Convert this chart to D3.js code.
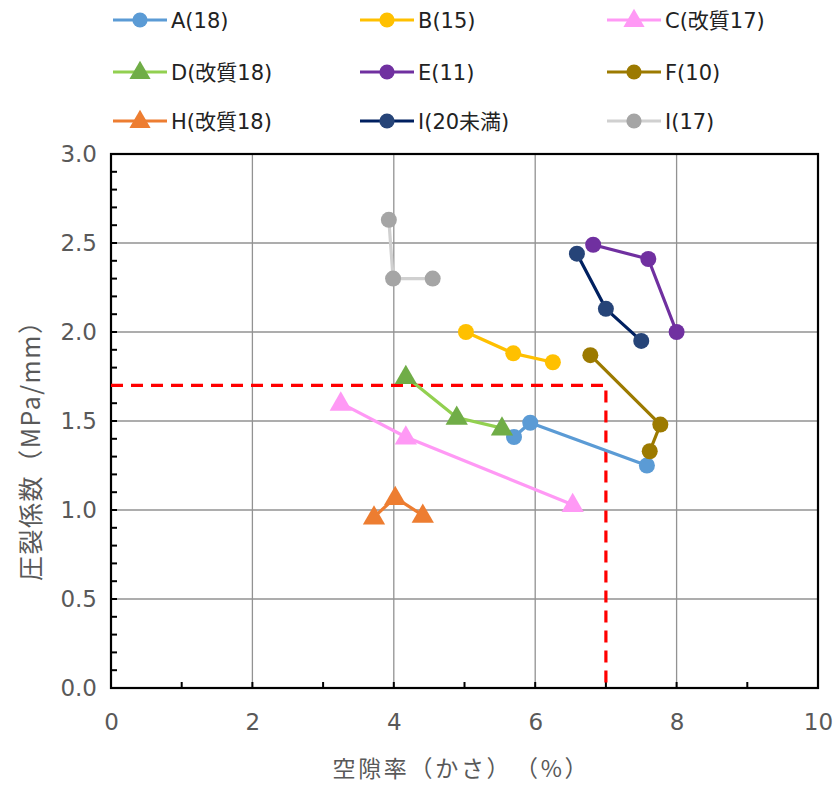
<!DOCTYPE html>
<html>
<head>
<meta charset="utf-8">
<script src="https://cdn.jsdelivr.net/npm/d3@7"></script>
<style>
  html, body { margin: 0; padding: 0; background: #fff; }
  svg { display: block; font-family: "DejaVu Sans", "Noto Sans CJK JP", sans-serif; }
</style>
</head>
<body>
<svg id="chart" width="840" height="789"></svg>
<script>
// Series: name, x values (空隙率 %), y values (圧裂係数 MPa/mm)
const seriesNames = ["A(18)", "B(15)", "C(改質17)", "D(改質18)", "E(11)", "F(10)", "H(改質18)", "I(20未満)", "I(17)"];
const seriesX = [
  [5.70, 5.93, 7.58],
  [5.02, 5.69, 6.25],
  [3.25, 4.17, 6.53],
  [4.17, 4.89, 5.53],
  [6.82, 7.60, 8.00],
  [6.78, 7.77, 7.62],
  [3.72, 4.02, 4.41],
  [6.59, 7.00, 7.50],
  [3.93, 3.99, 4.55]
];
const seriesY = [
  [1.41, 1.49, 1.25],
  [2.00, 1.88, 1.83],
  [1.60, 1.41, 1.03],
  [1.75, 1.52, 1.46],
  [2.49, 2.41, 2.00],
  [1.87, 1.48, 1.33],
  [0.96, 1.07, 0.97],
  [2.44, 2.13, 1.95],
  [2.63, 2.30, 2.30]
];
const seriesShape = ["circle", "circle", "triangle", "triangle", "circle", "circle", "triangle", "circle", "circle"];
const lineColors   = ["#5B9BD5", "#FFC000", "#FF99F5", "#92D050", "#7030A0", "#9C7A00", "#ED7D31", "#002060", "#D0D0D0"];
const markerColors = ["#5B9BD5", "#FFC000", "#FF99F5", "#70AD47", "#7030A0", "#9C7A00", "#ED7D31", "#264478", "#A5A5A5"];

// Threshold guide lines (red dashes)
const limitX = 7;
const limitY = 1.7;

const xTicks = [0, 2, 4, 6, 8, 10];
const yTicks = [0.0, 0.5, 1.0, 1.5, 2.0, 2.5, 3.0];
const xTitle = "空隙率（かさ）　（%）";
const yTitle = "圧裂係数（MPa/mm）";

const svg = d3.select("#chart");
const plot = { left: 111, right: 818, top: 154, bottom: 688 };

const x = d3.scaleLinear().domain([0, 10]).range([plot.left, plot.right]);
const y = d3.scaleLinear().domain([0, 3]).range([plot.bottom, plot.top]);

// Gridlines
const grid = svg.append("g");
grid.selectAll("line.gx").data(xTicks.slice(1, -1)).join("line")
  .attr("x1", d => x(d)).attr("x2", d => x(d))
  .attr("y1", plot.top).attr("y2", plot.bottom)
  .attr("stroke", "#929292").attr("stroke-width", 1.3);
grid.selectAll("line.gy").data(yTicks.slice(1, -1)).join("line")
  .attr("y1", d => y(d)).attr("y2", d => y(d))
  .attr("x1", plot.left).attr("x2", plot.right)
  .attr("stroke", "#929292").attr("stroke-width", 1.3);

// Minor ticks pointing inward
const yMinor = d3.range(1, 30).map(i => i / 10);
svg.append("g").selectAll("line").data(yMinor).join("line")
  .attr("x1", plot.left).attr("x2", plot.left + 6)
  .attr("y1", d => y(d)).attr("y2", d => y(d))
  .attr("stroke", "#000").attr("stroke-width", 2);
const xMinor = d3.range(1, 10);
svg.append("g").selectAll("line").data(xMinor).join("line")
  .attr("y1", plot.bottom).attr("y2", plot.bottom - 6)
  .attr("x1", d => x(d)).attr("x2", d => x(d))
  .attr("stroke", "#000").attr("stroke-width", 2);

// Axes with labels only (frame drawn separately)
const xAxis = svg.append("g").attr("transform", `translate(0,${plot.bottom})`)
  .call(d3.axisBottom(x).tickValues(xTicks).tickSize(0).tickPadding(26).tickFormat(d3.format("d")));
const yAxis = svg.append("g").attr("transform", `translate(${plot.left},0)`)
  .call(d3.axisLeft(y).tickValues(yTicks).tickSize(0).tickPadding(14).tickFormat(d3.format(".1f")));
[xAxis, yAxis].forEach(a => {
  a.select(".domain").remove();
  a.selectAll("text").attr("fill", "#595959").attr("font-size", 23)
    .attr("font-family", "'DejaVu Sans', sans-serif");
});

// Plot frame
svg.append("rect")
  .attr("x", plot.left).attr("y", plot.top)
  .attr("width", plot.right - plot.left).attr("height", plot.bottom - plot.top)
  .attr("fill", "none").attr("stroke", "#000").attr("stroke-width", 2.2);

// Red dashed threshold
svg.append("path")
  .attr("d", `M${x(0)},${y(limitY)}H${x(limitX)}V${y(0)}`)
  .attr("fill", "none").attr("stroke", "#FF0000").attr("stroke-width", 3.2)
  .attr("stroke-dasharray", "12,8");

function drawMarker(g, shape, cx, cy, color, scale) {
  if (shape === "circle") {
    g.append("circle").attr("cx", cx).attr("cy", cy).attr("r", 8 * scale).attr("fill", color);
  } else {
    g.append("path").attr("d", d3.symbol().type(d3.symbolTriangle).size(215 * scale * scale)())
      .attr("transform", `translate(${cx},${cy + 1})`).attr("fill", color);
  }
}

// Series lines and markers
const line = d3.line().x(d => x(d[0])).y(d => y(d[1]));
const marks = svg.append("g");
seriesNames.forEach((name, i) => {
  const pts = seriesX[i].map((v, j) => [v, seriesY[i][j]]);
  const g = marks.append("g");
  g.append("path").attr("d", line(pts)).attr("fill", "none")
    .attr("stroke", lineColors[i]).attr("stroke-width", 3.2).attr("stroke-linejoin", "round");
  pts.forEach(p => drawMarker(g, seriesShape[i], x(p[0]), y(p[1]), markerColors[i], 1));
});

// Legend: 3 columns x 3 rows
const legendColX = [113, 360, 607];
const legendRowY = [20, 72, 121];
const legend = svg.append("g");
seriesNames.forEach((name, i) => {
  const lx = legendColX[i % 3], ly = legendRowY[Math.floor(i / 3)];
  const g = legend.append("g");
  g.append("line").attr("x1", lx).attr("x2", lx + 54).attr("y1", ly).attr("y2", ly)
    .attr("stroke", lineColors[i]).attr("stroke-width", 3.2);
  drawMarker(g, seriesShape[i], lx + 27, ly, markerColors[i], 0.95);
  g.append("text").attr("x", lx + 58).attr("y", ly).attr("dy", "0.36em")
    .attr("font-size", 21).attr("fill", "#222").text(name);
});

// Axis titles
svg.append("text").attr("x", 460).attr("y", 777).attr("text-anchor", "middle")
  .attr("font-size", 23).attr("fill", "#595959")
  .attr("textLength", 255).attr("lengthAdjust", "spacing")
  .attr("font-family", "'Noto Sans CJK JP', sans-serif").text(xTitle);
svg.append("text").attr("transform", `translate(40,445) rotate(-90)`)
  .attr("text-anchor", "middle").attr("font-size", 25).attr("fill", "#595959")
  .attr("textLength", 272).attr("lengthAdjust", "spacing")
  .attr("font-family", "'Noto Sans CJK JP', sans-serif").text(yTitle);
</script>
</body>
</html>
